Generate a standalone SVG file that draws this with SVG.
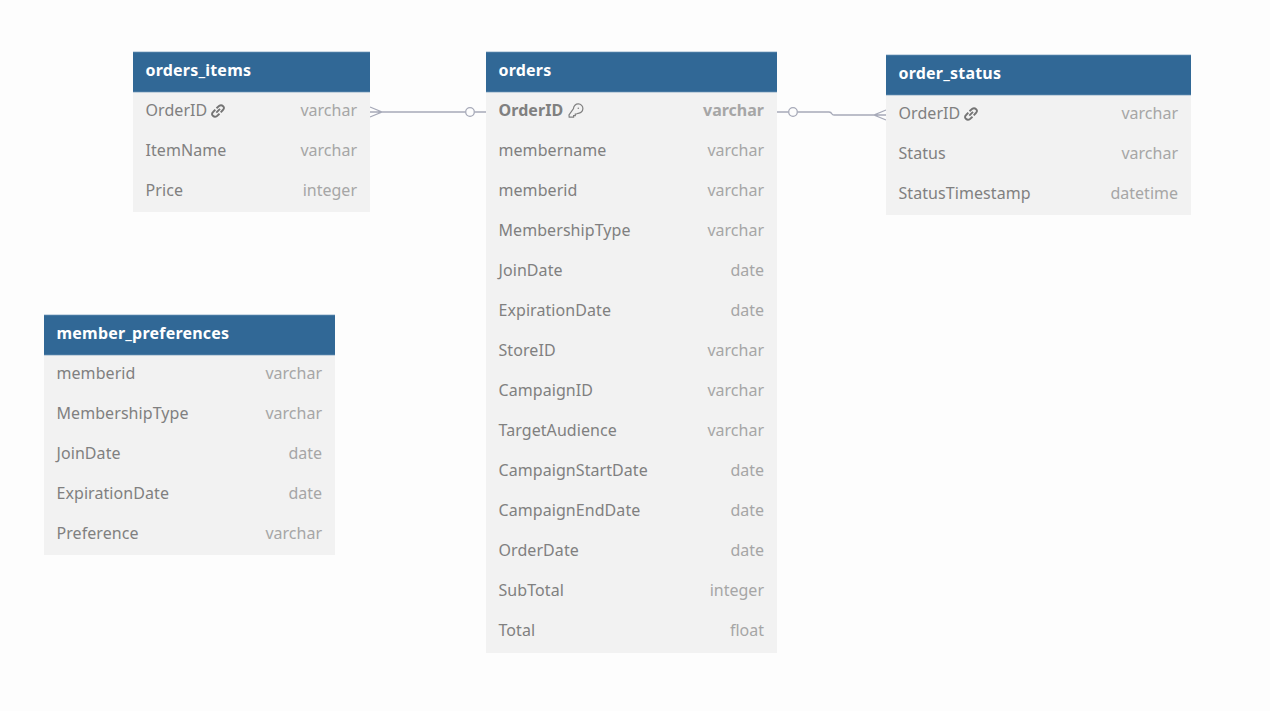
<svg xmlns="http://www.w3.org/2000/svg" width="1270" height="711" viewBox="0 0 1270 711">
<style>
text{font-family:"Noto Sans","Open Sans",sans-serif;font-size:16px;letter-spacing:.07px}
.hd{fill:#316896}
.ln{stroke:#6f97b8;stroke-width:.7}
.bd{fill:#f2f2f2}
.t{fill:#fff;font-weight:700;letter-spacing:.21px}
.n{fill:#808080}
.y{fill:#a6a6a6;text-anchor:end;letter-spacing:0}
.b{font-weight:700}
.c{fill:none;stroke:#a6a9b8;stroke-width:1.3}
.i{fill:none;stroke-width:1.9;stroke:#747474}
.k{fill:none;stroke-width:1.2;stroke:#808080}
</style>
<defs>
<g id="link"><path class="i" d="M-1.700 1.700 2 -2.200M-1.500 -2.800 1 -5Q3.200 -6.600 5.100 -4.800T4.900 -1L2.700 1.300M1.500 2.800 -1 5Q-3.200 6.600 -5.100 4.800T-4.900 1L-2.700 -1.300"/></g>
<g id="key"><path class="k" d="M-1.500 -2.500A4.700 4.700 0 1 1 3 2.300L1.600 3H.3V4.700H-1.400V6.200H-5.800L-6 3.800Z"/><circle cx="3.300" cy="-2.700" r=".8" fill="#808080"/></g>
</defs>
<rect width="1270" height="711" fill="#fdfdfd"/>
<g id="connectors">
<path class="c" d="M370 112H465.500M474.500 112H486M370 107 382 112 370 117"/>
<circle class="c" cx="470" cy="112" r="4.300"/>
<path class="c" d="M777 112H788.500M797.500 112H829Q831 112 832 114 832.500 115 834 115H886M886 110 874 115 886 120"/>
<circle class="c" cx="793" cy="112" r="4.300"/>
</g>
<g id="orders_items">
<rect class="bd" x="133" y="92" width="237" height="120"/>
<rect class="hd" x="133" y="52" width="237" height="40"/>
<path class="ln" d="M133 52H370M133 92H370"/>
<text class="t" x="145.500" y="76">orders_items</text>
<text class="n" x="145.500" y="116">OrderID</text><use href="#link" x="218" y="111"/><text class="y" x="357" y="116">varchar</text>
<text class="n" x="145.500" y="156">ItemName</text><text class="y" x="357" y="156">varchar</text>
<text class="n" x="145.500" y="196">Price</text><text class="y" x="357" y="196">integer</text>
</g>
<g id="orders">
<rect class="bd" x="486" y="92" width="291" height="561"/>
<rect class="hd" x="486" y="52" width="291" height="40"/>
<path class="ln" d="M486 52H777M486 92H777"/>
<text class="t" x="498.500" y="76">orders</text>
<text class="n b" x="498.500" y="116">OrderID</text><use href="#key" x="575" y="111"/><text class="y b" x="764" y="116">varchar</text>
<text class="n" x="498.500" y="156">membername</text><text class="y" x="764" y="156">varchar</text>
<text class="n" x="498.500" y="196">memberid</text><text class="y" x="764" y="196">varchar</text>
<text class="n" x="498.500" y="236">MembershipType</text><text class="y" x="764" y="236">varchar</text>
<text class="n" x="498.500" y="276">JoinDate</text><text class="y" x="764" y="276">date</text>
<text class="n" x="498.500" y="316">ExpirationDate</text><text class="y" x="764" y="316">date</text>
<text class="n" x="498.500" y="356">StoreID</text><text class="y" x="764" y="356">varchar</text>
<text class="n" x="498.500" y="396">CampaignID</text><text class="y" x="764" y="396">varchar</text>
<text class="n" x="498.500" y="436">TargetAudience</text><text class="y" x="764" y="436">varchar</text>
<text class="n" x="498.500" y="476">CampaignStartDate</text><text class="y" x="764" y="476">date</text>
<text class="n" x="498.500" y="516">CampaignEndDate</text><text class="y" x="764" y="516">date</text>
<text class="n" x="498.500" y="556">OrderDate</text><text class="y" x="764" y="556">date</text>
<text class="n" x="498.500" y="596">SubTotal</text><text class="y" x="764" y="596">integer</text>
<text class="n" x="498.500" y="636">Total</text><text class="y" x="764" y="636">float</text>
</g>
<g id="order_status">
<rect class="bd" x="886" y="95" width="305" height="120"/>
<rect class="hd" x="886" y="55" width="305" height="40"/>
<path class="ln" d="M886 55H1191M886 95H1191"/>
<text class="t" x="898.500" y="79">order_status</text>
<text class="n" x="898.500" y="119">OrderID</text><use href="#link" x="971" y="114"/><text class="y" x="1178" y="119">varchar</text>
<text class="n" x="898.500" y="159">Status</text><text class="y" x="1178" y="159">varchar</text>
<text class="n" x="898.500" y="199">StatusTimestamp</text><text class="y" x="1178" y="199">datetime</text>
</g>
<g id="member_preferences">
<rect class="bd" x="44" y="355" width="291" height="200"/>
<rect class="hd" x="44" y="315" width="291" height="40"/>
<path class="ln" d="M44 315H335M44 355H335"/>
<text class="t" x="56.500" y="339">member_preferences</text>
<text class="n" x="56.500" y="379">memberid</text><text class="y" x="322" y="379">varchar</text>
<text class="n" x="56.500" y="419">MembershipType</text><text class="y" x="322" y="419">varchar</text>
<text class="n" x="56.500" y="459">JoinDate</text><text class="y" x="322" y="459">date</text>
<text class="n" x="56.500" y="499">ExpirationDate</text><text class="y" x="322" y="499">date</text>
<text class="n" x="56.500" y="539">Preference</text><text class="y" x="322" y="539">varchar</text>
</g>
</svg>
